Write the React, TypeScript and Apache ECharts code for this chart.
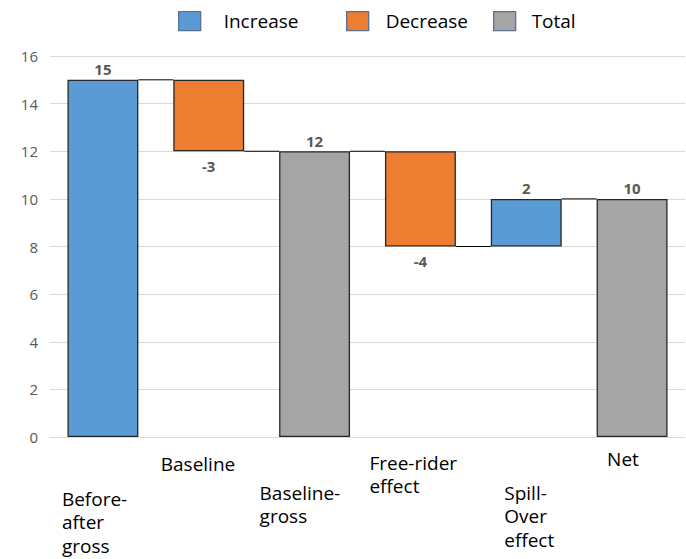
import React, { useEffect, useRef } from "react";
import * as echarts from "echarts";

const categories = [
  "Before-\nafter\ngross",
  "Baseline",
  "Baseline-\ngross",
  "Free-rider\neffect",
  "Spill-\nOver\neffect",
  "Net",
];
const values = [15, -3, 12, -4, 2, 10];
const kinds = ["increase", "decrease", "total", "decrease", "increase", "total"];
const legendNames = ["Increase", "Decrease", "Total"];
const yTicks = { min: 0, max: 16, interval: 2 };

// label placement (offset of the text's left edge / top from the category centre at y=0)
const labelOffsets: [number, number][] = [
  [-41, 50],
  [-48, 15],
  [-55, 44],
  [-51, 14],
  [-22, 44],
  [-25, 10],
];

const FONT = '"Open Sans", "Noto Sans", sans-serif';

export default function App() {
  const ref = useRef<HTMLDivElement>(null);
  useEffect(() => {
    if (!ref.current) return;
    const chart = echarts.init(ref.current, undefined, { renderer: "svg" });

    // waterfall geometry from values
    const base: number[] = [];
    const inc: (number | string)[] = [];
    const dec: (number | string)[] = [];
    const tot: (number | string)[] = [];
    const levels: number[] = [];
    let level = 0;
    values.forEach((v, i) => {
      const k = kinds[i];
      if (k === "total") {
        base.push(0);
        tot.push(v);
        inc.push("-");
        dec.push("-");
        level = v;
      } else if (k === "increase") {
        base.push(level);
        inc.push(v);
        tot.push("-");
        dec.push("-");
        level += v;
      } else {
        level += v;
        base.push(level);
        dec.push(-v);
        inc.push("-");
        tot.push("-");
      }
      levels.push(level);
    });

    const BAR = 0.67;
    const border = { borderColor: "#262626", borderWidth: 1.3 };
    const labelStyle = {
      show: true,
      color: "#595959",
      fontFamily: FONT,
      fontSize: 15,
      fontWeight: "bold" as const,
      formatter: (p: any) => String(values[p.dataIndex]),
    };

    const legendCommon = {
      top: 6,
      itemWidth: 22,
      itemHeight: 19,
      icon: "rect",
      selectedMode: false,
      itemStyle: { borderColor: "#5a7190", borderWidth: 1.3 },
    };
    const legendText = (pad: number) => ({
      color: "#000",
      fontFamily: FONT,
      fontSize: 19,
      padding: [0, 0, 0, pad],
    });

    chart.setOption({
      animation: false,
      textStyle: { fontFamily: FONT },
      legend: [
        { ...legendCommon, left: 173, data: [legendNames[0]], textStyle: legendText(18) },
        { ...legendCommon, left: 341, data: [legendNames[1]], textStyle: legendText(12) },
        { ...legendCommon, left: 488, data: [legendNames[2]], textStyle: legendText(11) },
      ],
      grid: { left: 50, right: 1, top: 56, bottom: 122, containLabel: false },
      xAxis: {
        type: "category",
        data: categories,
        axisLine: { show: true, lineStyle: { color: "#d9d9d9", width: 1 } },
        axisTick: { show: false },
        axisLabel: { show: false },
        splitLine: { show: false },
      },
      yAxis: {
        type: "value",
        min: yTicks.min,
        max: yTicks.max,
        interval: yTicks.interval,
        axisLine: { show: false },
        axisTick: { show: false },
        axisLabel: { color: "#595959", fontSize: 15, fontFamily: FONT, margin: 12 },
        splitLine: { lineStyle: { color: "#d9d9d9", width: 1 } },
      },
      series: [
        {
          name: "base",
          type: "bar",
          stack: "w",
          barWidth: "67%",
          data: base,
          itemStyle: { color: "transparent", borderWidth: 0 },
          emphasis: { disabled: true },
          silent: true,
        },
        {
          name: legendNames[0],
          type: "bar",
          stack: "w",
          barWidth: "67%",
          data: inc,
          itemStyle: { color: "#5b9bd5", ...border },
          label: { ...labelStyle, position: "top", distance: 3 },
        },
        {
          name: legendNames[1],
          type: "bar",
          stack: "w",
          barWidth: "67%",
          data: dec,
          itemStyle: { color: "#ed7d31", ...border },
          label: { ...labelStyle, position: "bottom", distance: 7 },
        },
        {
          name: legendNames[2],
          type: "bar",
          stack: "w",
          barWidth: "67%",
          data: tot,
          itemStyle: { color: "#a5a5a5", ...border },
          label: { ...labelStyle, position: "top", distance: 3 },
        },
        {
          name: "connectors",
          type: "custom",
          coordinateSystem: "cartesian2d",
          silent: true,
          z: 1,
          data: levels.slice(0, -1).map((lv, i) => [i, lv]),
          encode: { x: 0, y: 1 },
          renderItem: (params: any, api: any) => {
            const i = api.value(0);
            const lv = api.value(1);
            const p = api.coord([i, lv]);
            const band = api.size([1, 0])[0];
            const half = (band * BAR) / 2;
            return {
              type: "line",
              shape: { x1: p[0] + half, y1: p[1], x2: p[0] + band - half, y2: p[1] },
              style: { stroke: "#000", lineWidth: 1 },
            };
          },
        },
        {
          name: "catLabels",
          type: "custom",
          coordinateSystem: "cartesian2d",
          silent: true,
          clip: false,
          data: categories.map((_, i) => [i, 0]),
          encode: { x: 0, y: 1 },
          renderItem: (params: any, api: any) => {
            const i = api.value(0);
            const p = api.coord([i, 0]);
            const off = labelOffsets[i];
            return {
              type: "text",
              x: p[0] + off[0],
              y: p[1] + off[1],
              style: {
                text: categories[i],
                fill: "#000",
                fontFamily: FONT,
                fontSize: 19,
                align: "left",
                verticalAlign: "top",
                lineHeight: 23.5,
              },
            };
          },
        },
      ],
    });
    return () => chart.dispose();
  }, []);
  return <div ref={ref} style={{ width: 686, height: 559, position: "absolute", left: 0, top: 0 }} />;
}
